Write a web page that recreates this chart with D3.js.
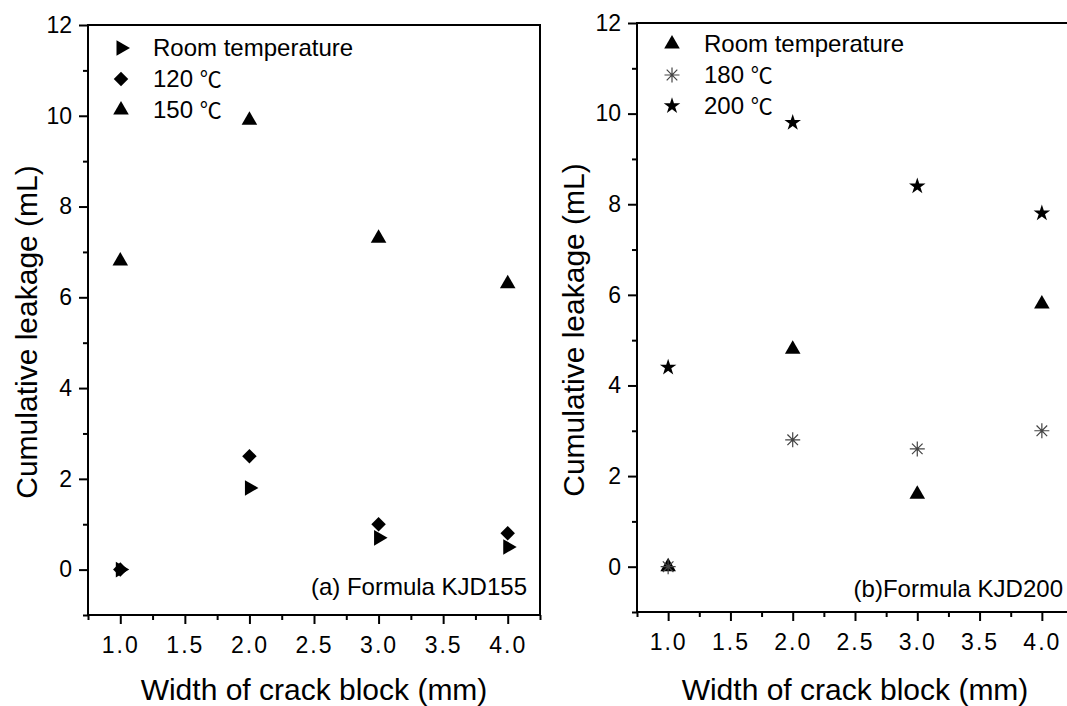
<!DOCTYPE html>
<html>
<head>
<meta charset="utf-8">
<script src="https://cdn.jsdelivr.net/npm/d3@7"></script>
<style>
  body { margin: 0; background: #fff; }
  svg { display: block; font-family: "Liberation Sans", Arial, "Noto Sans CJK SC", sans-serif; }
  .tick line { stroke: #000; stroke-width: 2; }
  .xMajor .tick text { letter-spacing: 2px; }
  .axisTitle { font-size: 30px; fill: #000; }
  .legendText, .note { font-size: 24px; fill: #000; }
</style>
</head>
<body>
<div id="chart"></div>
<script>
// crack block widths (mm)
const widths = [1, 2, 3, 4];

// (a) formula KJD155, cumulative leakage (mL)
const kjd155Room = [0, 1.8, 0.7, 0.5];
const kjd155T120 = [0, 2.5, 1.0, 0.8];
const kjd155T150 = [6.8, 9.9, 7.3, 6.3];

// (b) formula KJD200
const kjd200Room = [0, 4.8, 1.6, 5.8];
const kjd200T180 = [0, 2.8, 2.6, 3.0];
const kjd200T200 = [4.4, 9.8, 8.4, 7.8];

const xMajor = [1.0, 1.5, 2.0, 2.5, 3.0, 3.5, 4.0];
const xMinor = [0.75, 1.25, 1.75, 2.25, 2.75, 3.25, 3.75, 4.25];
const yMajor = [0, 2, 4, 6, 8, 10, 12];
const yMinor = [-1, 1, 3, 5, 7, 9, 11];

const svgWidth = 1067, svgHeight = 706;
const fontStack = '"Liberation Sans", Arial, sans-serif';

const svg = d3.select("#chart")
  .append("svg")
  .attr("width", svgWidth)
  .attr("height", svgHeight);

// marker shapes
const triUp = d3.symbol().type(d3.symbolTriangle).size(105)();
const diamond = d3.symbol().type(d3.symbolSquare).size(105)();
const star = d3.symbol().type(d3.symbolStar).size(85)();

function drawMarker(g, kind, x, y) {
  if (kind === "tri") {
    g.append("path").attr("d", triUp)
      .attr("transform", `translate(${x},${y})`).attr("fill", "#000");
  } else if (kind === "triRight") {
    g.append("path").attr("d", triUp)
      .attr("transform", `translate(${x},${y}) rotate(90)`).attr("fill", "#000");
  } else if (kind === "diamond") {
    g.append("path").attr("d", diamond)
      .attr("transform", `translate(${x},${y}) rotate(45)`).attr("fill", "#000");
  } else if (kind === "star") {
    g.append("path").attr("d", star)
      .attr("transform", `translate(${x},${y})`).attr("fill", "#000");
  } else if (kind === "asterisk") {
    const r = 7.5, d = r * 0.707;
    const p = `M${-r},0L${r},0M0,${-r}L0,${r}M${-d},${-d}L${d},${d}M${-d},${d}L${d},${-d}`;
    g.append("path").attr("d", p)
      .attr("transform", `translate(${x},${y})`)
      .attr("fill", "none").attr("stroke", "#444").attr("stroke-width", 1.2);
  }
}

function styleAxis(a) {
  a.select(".domain").remove();
  a.attr("font-family", fontStack).attr("font-size", 23);
  a.selectAll("text").attr("fill", "#000");
}

function drawPanel(cfg) {
  const x = d3.scaleLinear().domain([0.75, 4.25]).range([cfg.left, cfg.right]);
  const y = d3.scaleLinear().domain([-1, 12]).range([cfg.bottom, cfg.top]);
  const g = svg.append("g");

  // minor ticks
  g.append("g")
    .attr("transform", `translate(0,${cfg.bottom})`)
    .call(d3.axisBottom(x).tickValues(xMinor).tickSize(5).tickFormat(""))
    .call(styleAxis);
  g.append("g")
    .attr("transform", `translate(${cfg.left},0)`)
    .call(d3.axisLeft(y).tickValues(yMinor).tickSize(5).tickFormat(""))
    .call(styleAxis);

  // major ticks
  g.append("g")
    .attr("class", "xMajor")
    .attr("transform", `translate(0,${cfg.bottom})`)
    .call(d3.axisBottom(x).tickValues(xMajor).tickSize(9).tickPadding(13)
      .tickFormat(d3.format(".1f")))
    .call(styleAxis);
  g.append("g")
    .attr("transform", `translate(${cfg.left},0)`)
    .call(d3.axisLeft(y).tickValues(yMajor).tickSize(9).tickPadding(7))
    .call(styleAxis);

  // frame
  g.append("rect")
    .attr("x", cfg.left).attr("y", cfg.top)
    .attr("width", cfg.right - cfg.left).attr("height", cfg.bottom - cfg.top)
    .attr("fill", "none").attr("stroke", "#000").attr("stroke-width", 2);

  // data points
  cfg.series.forEach((s) => {
    s.values.forEach((v, i) => drawMarker(g, s.marker, x(widths[i]), y(v)));
  });

  // legend
  cfg.series.forEach((s, i) => {
    const ly = cfg.legendY + i * 31;
    drawMarker(g, s.marker, cfg.legendX, ly);
    const t = g.append("text").attr("class", "legendText")
      .attr("x", cfg.legendX + 32).attr("y", ly + 8);
    if (s.name.indexOf("℃") >= 0) {
      t.append("tspan").text(s.name.replace("℃", ""));
      t.append("tspan").attr("font-family", "Noto Sans CJK SC")
        .attr("font-size", 22).text("℃");
    } else {
      t.text(s.name);
    }
  });

  // note
  g.append("text").attr("class", "note")
    .attr("x", cfg.noteX).attr("y", cfg.noteY)
    .attr("text-anchor", "end").text(cfg.note);

  // axis titles
  g.append("text").attr("class", "axisTitle")
    .attr("x", (cfg.left + cfg.right) / 2).attr("y", 700)
    .attr("text-anchor", "middle").text("Width of crack block (mm)");
  g.append("text").attr("class", "axisTitle")
    .attr("transform", `translate(${cfg.yTitleX},${cfg.yTitleY}) rotate(-90)`)
    .attr("text-anchor", "middle").text("Cumulative leakage (mL)");
}

drawPanel({
  left: 88, right: 540, top: 25, bottom: 615,
  legendX: 121, legendY: 48,
  noteX: 527, noteY: 595, note: "(a) Formula KJD155",
  yTitleX: 37, yTitleY: 332,
  series: [
    { name: "Room temperature", marker: "triRight", values: kjd155Room },
    { name: "120 ℃", marker: "diamond", values: kjd155T120 },
    { name: "150 ℃", marker: "tri", values: kjd155T150 },
  ],
});

drawPanel({
  left: 637, right: 1073, top: 23, bottom: 612,
  legendX: 672, legendY: 44,
  noteX: 1063, noteY: 597, note: "(b)Formula KJD200",
  yTitleX: 584, yTitleY: 330,
  series: [
    { name: "Room temperature", marker: "tri", values: kjd200Room },
    { name: "180 ℃", marker: "asterisk", values: kjd200T180 },
    { name: "200 ℃", marker: "star", values: kjd200T200 },
  ],
});
</script>
</body>
</html>
